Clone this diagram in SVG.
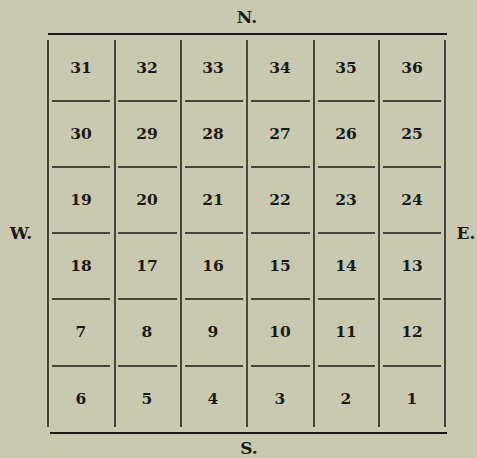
<svg xmlns="http://www.w3.org/2000/svg" width="477" height="458" viewBox="0 0 477 458">
<style>
.bg{fill:#c9c9b2}
.t{font-family:"DejaVu Serif","Liberation Serif",serif;font-weight:bold;font-size:15.5px;fill:#1a1a16;text-anchor:middle}
.d{font-family:"DejaVu Serif","Liberation Serif",serif;font-weight:bold;font-size:17px;fill:#1a1a16;text-anchor:middle}
.l{stroke:#1a1a16;stroke-width:1.5;fill:none}
.o{stroke:#1a1a16;stroke-width:2;fill:none}
</style>
<rect class="bg" width="477" height="458"/>
<g id="compass">
<text class="d" x="247" y="23">N.</text>
<text class="d" x="249" y="454">S.</text>
<text class="d" x="21" y="239">W.</text>
<text class="d" x="466" y="239">E.</text>
</g>
<g id="lines">
<path class="o" d="M48 34H447M50 433H447"/>
<path class="l" d="M48 40V427M115 40V427M181 40V427M247 40V427M314 40V427M379 40V427M445 40V427"/>
<path class="l" d="M52 101H110M118 101H177M185 101H243M251 101H310M318 101H375M383 101H441"/>
<path class="l" d="M52 167H110M118 167H177M185 167H243M251 167H310M318 167H375M383 167H441"/>
<path class="l" d="M52 233H110M118 233H177M185 233H243M251 233H310M318 233H375M383 233H441"/>
<path class="l" d="M52 299H110M118 299H177M185 299H243M251 299H310M318 299H375M383 299H441"/>
<path class="l" d="M52 366H110M118 366H177M185 366H243M251 366H310M318 366H375M383 366H441"/>
</g>
<g id="s31"><text class="t" x="81" y="73">31</text></g>
<g id="s32"><text class="t" x="147" y="73">32</text></g>
<g id="s33"><text class="t" x="213" y="73">33</text></g>
<g id="s34"><text class="t" x="280" y="73">34</text></g>
<g id="s35"><text class="t" x="346" y="73">35</text></g>
<g id="s36"><text class="t" x="412" y="73">36</text></g>
<g id="s30"><text class="t" x="81" y="139">30</text></g>
<g id="s29"><text class="t" x="147" y="139">29</text></g>
<g id="s28"><text class="t" x="213" y="139">28</text></g>
<g id="s27"><text class="t" x="280" y="139">27</text></g>
<g id="s26"><text class="t" x="346" y="139">26</text></g>
<g id="s25"><text class="t" x="412" y="139">25</text></g>
<g id="s19"><text class="t" x="81" y="205">19</text></g>
<g id="s20"><text class="t" x="147" y="205">20</text></g>
<g id="s21"><text class="t" x="213" y="205">21</text></g>
<g id="s22"><text class="t" x="280" y="205">22</text></g>
<g id="s23"><text class="t" x="346" y="205">23</text></g>
<g id="s24"><text class="t" x="412" y="205">24</text></g>
<g id="s18"><text class="t" x="81" y="271">18</text></g>
<g id="s17"><text class="t" x="147" y="271">17</text></g>
<g id="s16"><text class="t" x="213" y="271">16</text></g>
<g id="s15"><text class="t" x="280" y="271">15</text></g>
<g id="s14"><text class="t" x="346" y="271">14</text></g>
<g id="s13"><text class="t" x="412" y="271">13</text></g>
<g id="s7"><text class="t" x="81" y="337">7</text></g>
<g id="s8"><text class="t" x="147" y="337">8</text></g>
<g id="s9"><text class="t" x="213" y="337">9</text></g>
<g id="s10"><text class="t" x="280" y="337">10</text></g>
<g id="s11"><text class="t" x="346" y="337">11</text></g>
<g id="s12"><text class="t" x="412" y="337">12</text></g>
<g id="s6"><text class="t" x="81" y="404">6</text></g>
<g id="s5"><text class="t" x="147" y="404">5</text></g>
<g id="s4"><text class="t" x="213" y="404">4</text></g>
<g id="s3"><text class="t" x="280" y="404">3</text></g>
<g id="s2"><text class="t" x="346" y="404">2</text></g>
<g id="s1"><text class="t" x="412" y="404">1</text></g>
</svg>
